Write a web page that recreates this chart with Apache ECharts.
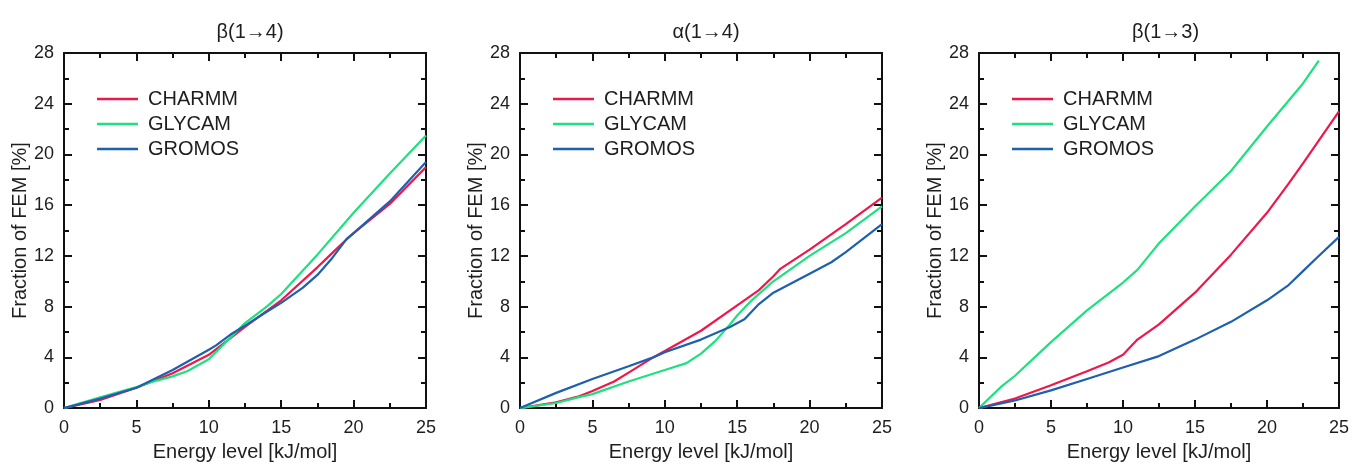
<!DOCTYPE html>
<html>
<head>
<meta charset="utf-8">
<script src="https://cdn.jsdelivr.net/npm/echarts@6/dist/echarts.min.js"></script>
<style>html,body{margin:0;padding:0;background:#fff}#c{width:1352px;height:467px}</style>
</head>
<body>
<div id="c"></div>
<script>
// ---- data ----
const panelTitles = ['β(1→4)', 'α(1→4)', 'β(1→3)'];
const seriesNames = ['CHARMM', 'GLYCAM', 'GROMOS'];
const xTicks = [0, 5, 10, 15, 20, 25];
const yTicks = [0, 4, 8, 12, 16, 20, 24, 28];

// β(1→4)
const b14_CHARMM = [[0,0],[2.5,0.65],[5,1.6],[7.5,2.75],[10,4.2],[12.5,6.4],[15,8.5],[17.5,11.1],[18.5,12.2],[19.5,13.3],[20,13.8],[22.5,16.1],[25,19.0]];
const b14_GLYCAM = [[0,0],[2.5,0.85],[5,1.65],[6,2.05],[7.5,2.5],[8.5,2.9],[10,3.85],[11,5.0],[12.5,6.7],[14,8.0],[15,9.0],[17.5,12.1],[20,15.4],[22.5,18.5],[25,21.5]];
const b14_GROMOS = [[0,0],[2.5,0.75],[5,1.6],[7.5,3.0],[10,4.6],[10.5,4.95],[11.5,5.8],[12.5,6.5],[14,7.6],[15,8.3],[16.5,9.5],[17.5,10.5],[18.5,11.8],[19.5,13.3],[20,13.8],[22.5,16.3],[25,19.4]];

// α(1→4)
const a14_CHARMM = [[0,0],[2.5,0.45],[4,0.9],[5,1.35],[6.5,2.1],[7.5,2.8],[9.2,4.0],[10,4.5],[12.5,6.1],[15,8.1],[16.5,9.3],[17.5,10.4],[18,11.0],[20,12.5],[22.5,14.5],[25,16.6]];
const a14_GLYCAM = [[0,0],[2.5,0.4],[4,0.85],[5,1.1],[7.5,2.1],[10,3.0],[11.5,3.55],[12.5,4.3],[13.5,5.3],[14.5,6.6],[15,7.3],[16,8.5],[17.5,10.0],[20,12.0],[22.5,13.8],[25,15.9]];
const a14_GROMOS = [[0,0],[2.5,1.2],[5,2.3],[7.5,3.3],[9.2,4.0],[10,4.4],[12.5,5.4],[14.5,6.4],[15.5,7.0],[16.5,8.2],[17.5,9.1],[20,10.6],[21.5,11.5],[22.5,12.3],[25,14.5]];

// β(1→3)
const b13_CHARMM = [[0,0],[2.5,0.75],[5,1.8],[7.5,2.9],[9,3.6],[10,4.2],[11,5.4],[12.5,6.6],[15,9.1],[17.5,12.1],[20,15.4],[21.5,17.7],[22.5,19.3],[25,23.4]];
const b13_GLYCAM = [[0,0],[1.5,1.65],[2.5,2.55],[5,5.2],[7.5,7.7],[10,9.9],[11,10.9],[12,12.3],[12.5,13.0],[15,15.9],[17.5,18.7],[20,22.2],[22.5,25.6],[23.6,27.4]];
const b13_GROMOS = [[0,0],[2.5,0.6],[5,1.4],[7.5,2.3],[10,3.2],[12.5,4.1],[15,5.4],[17.5,6.8],[20,8.5],[21.5,9.7],[22.5,10.8],[23.5,11.9],[25,13.5]];

const panelData = [
  [b14_CHARMM, b14_GLYCAM, b14_GROMOS],
  [a14_CHARMM, a14_GLYCAM, a14_GROMOS],
  [b13_CHARMM, b13_GLYCAM, b13_GROMOS]
];
const colors = ['#ef164b', '#1de07e', '#1d60ad'];

// ---- layout ----
const FONT = "'Liberation Sans', Arial, sans-serif";
const gridLefts = [64, 520, 979];
const gridWidths = [362, 362, 363];
const GTOP = 53, GH = 363;

const grids = [], xAxes = [], yAxes = [], series = [], titles = [], legends = [];
const xMin = xTicks[0], xMax = xTicks[xTicks.length-1], xInt = xTicks[1]-xTicks[0];
const yMin = yTicks[0], yMax = yTicks[yTicks.length-1], yInt = yTicks[1]-yTicks[0];

const lineCol = '#111';
const textCol = '#1e1e1e';
function axisBase(extra) {
  return Object.assign({
    type: 'value',
    axisLine: { show: true, onZero: false, lineStyle: { color: lineCol, width: 2 } },
    axisTick: { show: true, inside: true, length: 8, lineStyle: { color: lineCol, width: 2 } },
    minorTick: { show: true, splitNumber: 2, length: 5, lineStyle: { color: lineCol, width: 2 } },
    splitLine: { show: false },
    minorSplitLine: { show: false }
  }, extra);
}

for (let p = 0; p < 3; p++) {
  grids.push({ left: gridLefts[p], top: GTOP, width: gridWidths[p], height: GH, containLabel: false });
  titles.push({
    text: panelTitles[p],
    left: gridLefts[p] + gridWidths[p] / 2, top: 17, textAlign: 'center',
    textStyle: { fontFamily: FONT, fontSize: 20, fontWeight: 'normal', color: textCol }
  });
  xAxes.push(axisBase({
    gridIndex: p, position: 'bottom', min: xMin, max: xMax, interval: xInt,
    axisLabel: { show: true, margin: 11, fontFamily: FONT, fontSize: 18, color: textCol },
    name: 'Energy level [kJ/mol]', nameLocation: 'middle', nameGap: 30,
    nameTextStyle: { fontFamily: FONT, fontSize: 20, color: textCol }
  }));
  xAxes.push(axisBase({
    gridIndex: p, position: 'top', min: xMin, max: xMax, interval: xInt,
    axisLabel: { show: false }
  }));
  yAxes.push(axisBase({
    gridIndex: p, position: 'left', min: yMin, max: yMax, interval: yInt,
    axisLabel: { show: true, margin: 10, fontFamily: FONT, fontSize: 18, color: textCol },
    name: 'Fraction of FEM [%]', nameLocation: 'middle', nameGap: 32,
    nameTextStyle: { fontFamily: FONT, fontSize: 20, color: textCol }
  }));
  yAxes.push(axisBase({
    gridIndex: p, position: 'right', min: yMin, max: yMax, interval: yInt,
    axisLabel: { show: false }
  }));
  for (let s = 0; s < 3; s++) {
    series.push({
      type: 'line', name: seriesNames[s],
      xAxisIndex: 2 * p, yAxisIndex: 2 * p,
      data: panelData[p][s],
      symbol: 'none', smooth: false,
      lineStyle: { color: colors[s], width: 2.2 },
      itemStyle: { color: colors[s] },
      z: 3 + (s === 2 ? 1 : 0)
    });
  }
  legends.push({
    orient: 'vertical', left: gridLefts[p] + 33, top: 89, padding: 0,
    itemWidth: 41, itemHeight: 20, itemGap: 5,
    icon: 'path://M0,8.7 L41,8.7 L41,11.3 L0,11.3 Z',
    data: seriesNames,
    selectedMode: false,
    textStyle: { fontFamily: FONT, fontSize: 20, color: textCol, padding: [0, 0, 0, 5] }
  });
}

const chart = echarts.init(document.getElementById('c'), null, { renderer: 'canvas' });
chart.setOption({
  backgroundColor: '#fff',
  animation: false,
  color: colors,
  title: titles,
  legend: legends,
  grid: grids,
  xAxis: xAxes,
  yAxis: yAxes,
  series: series
});
</script>
</body>
</html>
